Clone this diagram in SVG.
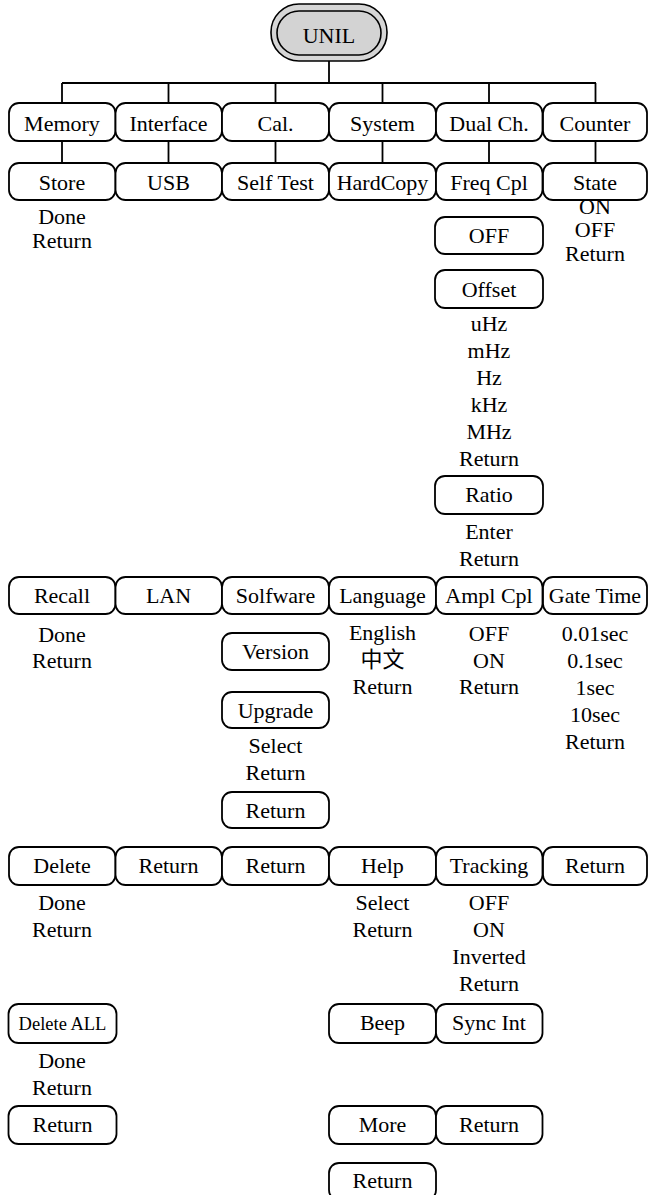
<svg xmlns="http://www.w3.org/2000/svg" width="648" height="1195" viewBox="0 0 648 1195">
<style>
.b{fill:#fff;stroke:#000;stroke-width:1.8}
.c{fill:none;stroke:#000;stroke-width:1.8}
text{font-family:"Liberation Serif","Times New Roman","Noto Sans CJK SC",serif;font-size:22px;fill:#000;text-anchor:middle}
.s{font-size:18.5px}
</style>
<rect width="648" height="1195" fill="#fff"/>
<g id="connectors">
<path class="c" d="M329 61V83M62 83H596M62 83V103M168.5 83V103M275.5 83V103M382.5 83V103M489 83V103M595.5 83V103"/>
<path class="c" d="M62 141V163M168.5 141V163M275.5 141V163M382.5 141V163M489 141V163M595.5 141V163"/>
</g>
<g id="unil">
<rect x="271" y="4" width="116" height="57" rx="28" fill="#d6d6d6" stroke="#000" stroke-width="1.6"/>
<rect x="277" y="11" width="104" height="44" rx="22" fill="#d3d3d3" stroke="#000" stroke-width="1.6"/>
<text x="329" y="43">UNIL</text>
</g>
<g id="memory"><rect class="b" x="9" y="103" width="106.5" height="38" rx="10"/><text x="62" y="131">Memory</text></g>
<g id="interface"><rect class="b" x="115.5" y="103" width="106.5" height="38" rx="10"/><text x="168.5" y="131">Interface</text></g>
<g id="cal"><rect class="b" x="222" y="103" width="107" height="38" rx="10"/><text x="275.5" y="131">Cal.</text></g>
<g id="system"><rect class="b" x="329" y="103" width="107" height="38" rx="10"/><text x="382.5" y="131">System</text></g>
<g id="dualch"><rect class="b" x="436" y="103" width="106.5" height="38" rx="10"/><text x="489" y="131">Dual Ch.</text></g>
<g id="counter"><rect class="b" x="543" y="103" width="104" height="38" rx="10"/><text x="595" y="131">Counter</text></g>

<g id="store"><rect class="b" x="9" y="163" width="106.5" height="37" rx="10"/><text x="62" y="190">Store</text>
<text x="62" y="224">Done</text><text x="62" y="248">Return</text></g>
<g id="usb"><rect class="b" x="115.5" y="163" width="106.5" height="37" rx="10"/><text x="168.5" y="190">USB</text></g>
<g id="selftest"><rect class="b" x="222" y="163" width="107" height="37" rx="10"/><text x="275.5" y="190">Self Test</text></g>
<g id="hardcopy"><rect class="b" x="329" y="163" width="107" height="37" rx="10"/><text x="382.5" y="190">HardCopy</text></g>
<g id="freqcpl"><rect class="b" x="436" y="163" width="106.5" height="37" rx="10"/><text x="489" y="190">Freq Cpl</text></g>
<g id="state"><rect class="b" x="543" y="163" width="104" height="37" rx="10"/><text x="595" y="190">State</text>
<text x="595" y="214">ON</text><text x="595" y="237">OFF</text><text x="595" y="261">Return</text></g>

<g id="freq-off"><rect class="b" x="435" y="217" width="108" height="37" rx="10"/><text x="489" y="243">OFF</text></g>
<g id="offset"><rect class="b" x="435" y="270" width="108" height="38" rx="10"/><text x="489" y="297">Offset</text>
<text x="489" y="331">uHz</text><text x="489" y="358">mHz</text><text x="489" y="385">Hz</text><text x="489" y="412">kHz</text><text x="489" y="439">MHz</text><text x="489" y="466">Return</text></g>
<g id="ratio"><rect class="b" x="435" y="476" width="108" height="38" rx="10"/><text x="489" y="502">Ratio</text>
<text x="489" y="539">Enter</text><text x="489" y="566">Return</text></g>

<g id="recall"><rect class="b" x="9" y="577" width="106.5" height="37" rx="10"/><text x="62" y="603">Recall</text>
<text x="62" y="642">Done</text><text x="62" y="668">Return</text></g>
<g id="lan"><rect class="b" x="115.5" y="577" width="106.5" height="37" rx="10"/><text x="168.5" y="603">LAN</text></g>
<g id="solfware"><rect class="b" x="222" y="577" width="107" height="37" rx="10"/><text x="275.5" y="603">Solfware</text></g>
<g id="language"><rect class="b" x="329" y="577" width="107" height="37" rx="10"/><text x="382.5" y="603">Language</text>
<text x="382.5" y="640">English</text><text x="382.5" y="667">中文</text><text x="382.5" y="694">Return</text></g>
<g id="amplcpl"><rect class="b" x="436" y="577" width="106.5" height="37" rx="10"/><text x="489" y="603">Ampl Cpl</text>
<text x="489" y="641">OFF</text><text x="489" y="668">ON</text><text x="489" y="694">Return</text></g>
<g id="gatetime"><rect class="b" x="543" y="577" width="104" height="37" rx="10"/><text x="595" y="603">Gate Time</text>
<text x="595" y="641">0.01sec</text><text x="595" y="668">0.1sec</text><text x="595" y="695">1sec</text><text x="595" y="722">10sec</text><text x="595" y="749">Return</text></g>

<g id="version"><rect class="b" x="222" y="633" width="107" height="37" rx="10"/><text x="275.5" y="659">Version</text></g>
<g id="upgrade"><rect class="b" x="222" y="692" width="107" height="36" rx="10"/><text x="275.5" y="718">Upgrade</text>
<text x="275.5" y="753">Select</text><text x="275.5" y="780">Return</text></g>
<g id="sw-return"><rect class="b" x="222" y="792" width="107" height="36" rx="10"/><text x="275.5" y="818">Return</text></g>

<g id="delete"><rect class="b" x="9" y="847" width="106.5" height="38" rx="10"/><text x="62" y="873">Delete</text>
<text x="62" y="910">Done</text><text x="62" y="937">Return</text></g>
<g id="if-return"><rect class="b" x="115.5" y="847" width="106.5" height="38" rx="10"/><text x="168.5" y="873">Return</text></g>
<g id="cal-return"><rect class="b" x="222" y="847" width="107" height="38" rx="10"/><text x="275.5" y="873">Return</text></g>
<g id="help"><rect class="b" x="329" y="847" width="107" height="38" rx="10"/><text x="382.5" y="873">Help</text>
<text x="382.5" y="910">Select</text><text x="382.5" y="937">Return</text></g>
<g id="tracking"><rect class="b" x="436" y="847" width="106.5" height="38" rx="10"/><text x="489" y="873">Tracking</text>
<text x="489" y="910">OFF</text><text x="489" y="937">ON</text><text x="489" y="964">Inverted</text><text x="489" y="991">Return</text></g>
<g id="cnt-return"><rect class="b" x="543" y="847" width="104" height="38" rx="10"/><text x="595" y="873">Return</text></g>

<g id="deleteall"><rect class="b" x="8.5" y="1004" width="108" height="39" rx="10"/><text class="s" x="62.5" y="1030">Delete ALL</text>
<text x="62" y="1068">Done</text><text x="62" y="1095">Return</text></g>
<g id="mem-return"><rect class="b" x="8.5" y="1106" width="108" height="38" rx="10"/><text x="62.5" y="1132">Return</text></g>
<g id="beep"><rect class="b" x="329" y="1004" width="107" height="39" rx="10"/><text x="382.5" y="1030">Beep</text></g>
<g id="syncint"><rect class="b" x="436" y="1004" width="106.5" height="39" rx="10"/><text x="489" y="1030">Sync Int</text></g>
<g id="more"><rect class="b" x="329" y="1106" width="107" height="38" rx="10"/><text x="382.5" y="1132">More</text></g>
<g id="dual-return"><rect class="b" x="436" y="1106" width="106.5" height="38" rx="10"/><text x="489" y="1132">Return</text></g>
<g id="sys-return"><rect class="b" x="329" y="1163" width="107" height="37" rx="10"/><text x="382.5" y="1188">Return</text></g>
</svg>
